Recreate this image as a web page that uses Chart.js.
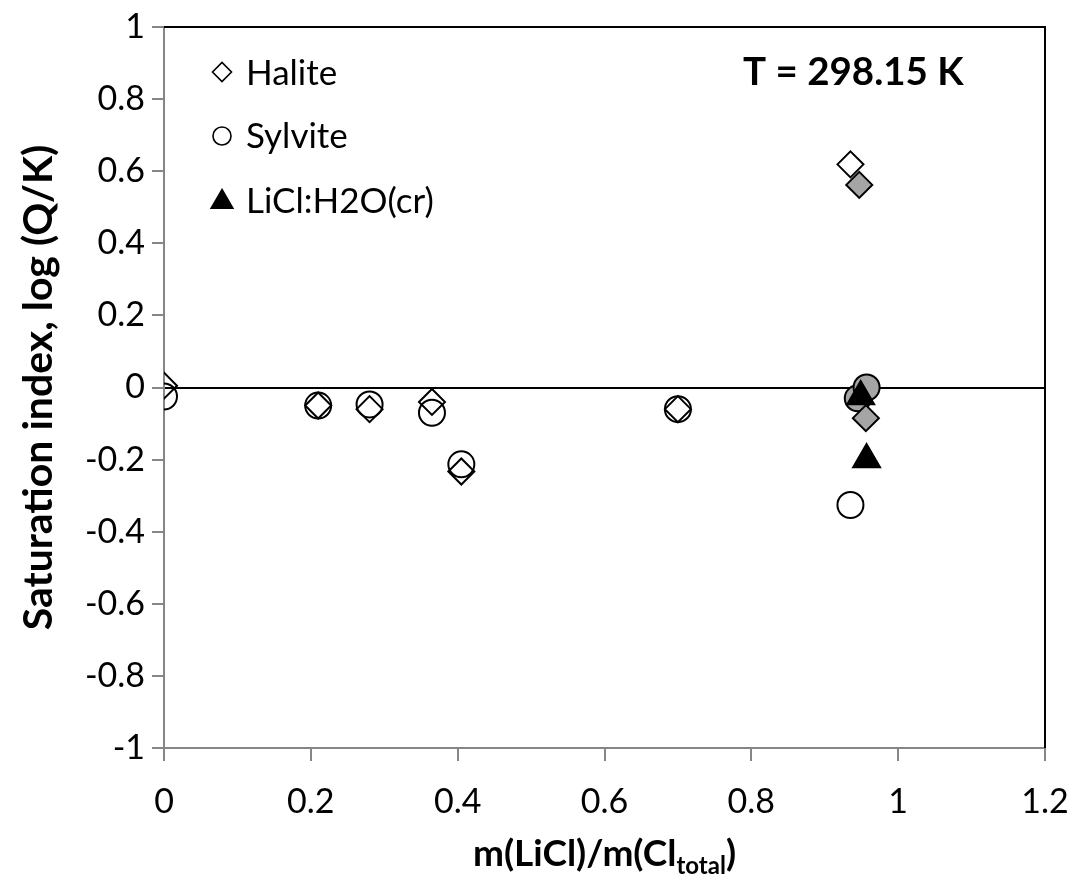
<!DOCTYPE html>
<html><head><meta charset="utf-8">
<script src="https://cdn.jsdelivr.net/npm/chart.js@4.4.0/dist/chart.umd.min.js"></script>
<style>html,body{margin:0;padding:0;background:#fff;}</style>
</head><body>
<canvas id="c" width="1078" height="886" style="display:block;width:1078px;height:886px"></canvas>
<script>
// ---- data ----
const xTickValues = [0, 0.2, 0.4, 0.6, 0.8, 1, 1.2];
const xTickLabels = ['0', '0.2', '0.4', '0.6', '0.8', '1', '1.2'];
const yTickValues = [-1, -0.8, -0.6, -0.4, -0.2, 0, 0.2, 0.4, 0.6, 0.8, 1];
const yTickLabels = ['-1', '-0.8', '-0.6', '-0.4', '-0.2', '0', '0.2', '0.4', '0.6', '0.8', '1'];

const haliteX = [0, 0.21, 0.28, 0.365, 0.405, 0.70, 0.935];
const haliteY = [0.005, -0.05, -0.06, -0.04, -0.233, -0.06, 0.619];
const sylviteX = [0, 0.21, 0.28, 0.365, 0.405, 0.70, 0.935];
const sylviteY = [-0.025, -0.05, -0.047, -0.07, -0.213, -0.06, -0.326];
const haliteGrayX = [0.947, 0.956];
const haliteGrayY = [0.562, -0.085];
const sylviteGrayX = [0.945, 0.957];
const sylviteGrayY = [-0.03, 0.0];
const liclX = [0.949, 0.957];
const liclY = [-0.025, -0.2];

const legendLabels = ['Halite', 'Sylvite', 'LiCl:H2O(cr)'];
const tempLabel = 'T = 298.15 K';
const yTitle = 'Saturation index, log (Q/K)';
const xTitleMain = 'm(LiCl)/m(Cl';
const xTitleSub = 'total';
const xTitleEnd = ')';

const pts = (xs, ys) => xs.map((x, i) => ({x: x, y: ys[i]}));
const GRAY = '#a5a5a5';
const AXIS = '#868686';
const FONT = 'Lato';

const overlay = {
  id: 'overlay',
  afterDraw(chart) {
    const ctx = chart.ctx, a = chart.chartArea;
    ctx.save();
    // top & right frame
    ctx.strokeStyle = '#000'; ctx.lineWidth = 2;
    ctx.beginPath();
    ctx.moveTo(a.left, a.top); ctx.lineTo(a.right, a.top); ctx.lineTo(a.right, a.bottom);
    ctx.stroke();

    // legend
    const lx = 222, tx = 246;
    const rows = [
      {style: 'rectRot', r: 9.5, fill: '#fff', cy: 72, by: 85},
      {style: 'circle', r: 9, fill: '#fff', cy: 136, by: 148},
      {style: 'triangle', r: 12.5, fill: '#000', cy: 202, by: 213}
    ];
    ctx.font = '35px ' + FONT;
    ctx.fillStyle = '#000';
    ctx.textBaseline = 'alphabetic';
    ctx.textAlign = 'left';
    rows.forEach((r, i) => {
      ctx.save();
      ctx.fillStyle = r.fill; ctx.strokeStyle = '#000'; ctx.lineWidth = 1.6;
      Chart.helpers.drawPoint(ctx, {pointStyle: r.style, radius: r.r, rotation: 0, borderWidth: 1.6}, lx, r.cy);
      ctx.restore();
      ctx.fillStyle = '#000';
      ctx.fillText(legendLabels[i], tx, r.by);
    });

    // temperature label
    ctx.font = 'bold 38.5px ' + FONT;
    ctx.fillText(tempLabel, 743, 85);

    // y title (rotated)
    ctx.save();
    ctx.translate(39, (a.top + a.bottom) / 2);
    ctx.rotate(-Math.PI / 2);
    ctx.font = 'bold 41px ' + FONT;
    ctx.textAlign = 'center';
    ctx.textBaseline = 'middle';
    ctx.fillText(yTitle, 0, 0);
    ctx.restore();

    // x title with subscript
    const mainF = 'bold 37px ' + FONT, subF = 'bold 24px ' + FONT;
    ctx.font = mainF; const w1 = ctx.measureText(xTitleMain).width; const w3 = ctx.measureText(xTitleEnd).width;
    ctx.font = subF; const w2 = ctx.measureText(xTitleSub).width;
    let sx = (a.left + a.right) / 2 - (w1 + w2 + w3) / 2;
    const by = 866;
    ctx.textAlign = 'left'; ctx.textBaseline = 'alphabetic';
    ctx.font = mainF; ctx.fillText(xTitleMain, sx, by); sx += w1;
    ctx.font = subF; ctx.fillText(xTitleSub, sx, by + 8); sx += w2;
    ctx.font = mainF; ctx.fillText(xTitleEnd, sx, by);
    ctx.restore();
  }
};

new Chart(document.getElementById('c'), {
  type: 'scatter',
  data: {
    datasets: [
      {label: 'LiCl:H2O(cr)', data: pts(liclX, liclY), pointStyle: 'triangle', pointRadius: 16, pointHoverRadius: 16,
       backgroundColor: '#000', borderColor: '#000', borderWidth: 1.5, order: 0},
      {label: 'Halite (gray)', data: pts(haliteGrayX, haliteGrayY), pointStyle: 'rectRot', pointRadius: 13, pointHoverRadius: 13,
       backgroundColor: GRAY, borderColor: '#000', borderWidth: 2, order: 1},
      {label: 'Sylvite (gray)', data: pts(sylviteGrayX, sylviteGrayY), pointStyle: 'circle', pointRadius: 13, pointHoverRadius: 13,
       backgroundColor: GRAY, borderColor: '#000', borderWidth: 2, order: 2},
      {label: 'Halite', data: pts(haliteX, haliteY), pointStyle: 'rectRot', pointRadius: 13, pointHoverRadius: 13,
       backgroundColor: 'rgba(0,0,0,0)', borderColor: '#000', borderWidth: 2, order: 3},
      {label: 'Sylvite', data: pts(sylviteX, sylviteY), pointStyle: 'circle', pointRadius: 13, pointHoverRadius: 13,
       backgroundColor: 'rgba(0,0,0,0)', borderColor: '#000', borderWidth: 2, order: 4}
    ]
  },
  options: {
    responsive: false,
    animation: false,
    layout: {padding: {left: 0, right: 33, top: 27, bottom: 0}},
    plugins: {legend: {display: false}, tooltip: {enabled: false}},
    scales: {
      x: {
        type: 'linear', min: 0, max: 1.2,
        afterBuildTicks: s => { s.ticks = xTickValues.map(v => ({value: v})); },
        afterFit: s => { s.height = 138; s.paddingLeft = 0; s.paddingRight = 0; },
        border: {color: AXIS, width: 2},
        grid: {drawOnChartArea: false, color: AXIS, lineWidth: 2, tickLength: 13},
        ticks: {color: '#000', font: {family: FONT, size: 34}, padding: 21, maxRotation: 0,
                callback: (v) => xTickLabels[xTickValues.indexOf(v)]}
      },
      y: {
        type: 'linear', min: -1, max: 1,
        afterBuildTicks: s => { s.ticks = yTickValues.map(v => ({value: v})); },
        afterFit: s => { s.width = 164; s.paddingTop = 0; s.paddingBottom = 0; },
        border: {color: AXIS, width: 2},
        grid: {drawOnChartArea: true, tickLength: 12, lineWidth: 2,
               color: c => (c.tick && c.tick.value === 0) ? '#000' : 'rgba(0,0,0,0)',
               tickColor: AXIS},
        ticks: {color: '#000', font: {family: FONT, size: 34}, padding: 7,
                callback: (v) => yTickLabels[yTickValues.indexOf(v)]}
      }
    }
  },
  plugins: [overlay]
});
</script>
</body></html>
